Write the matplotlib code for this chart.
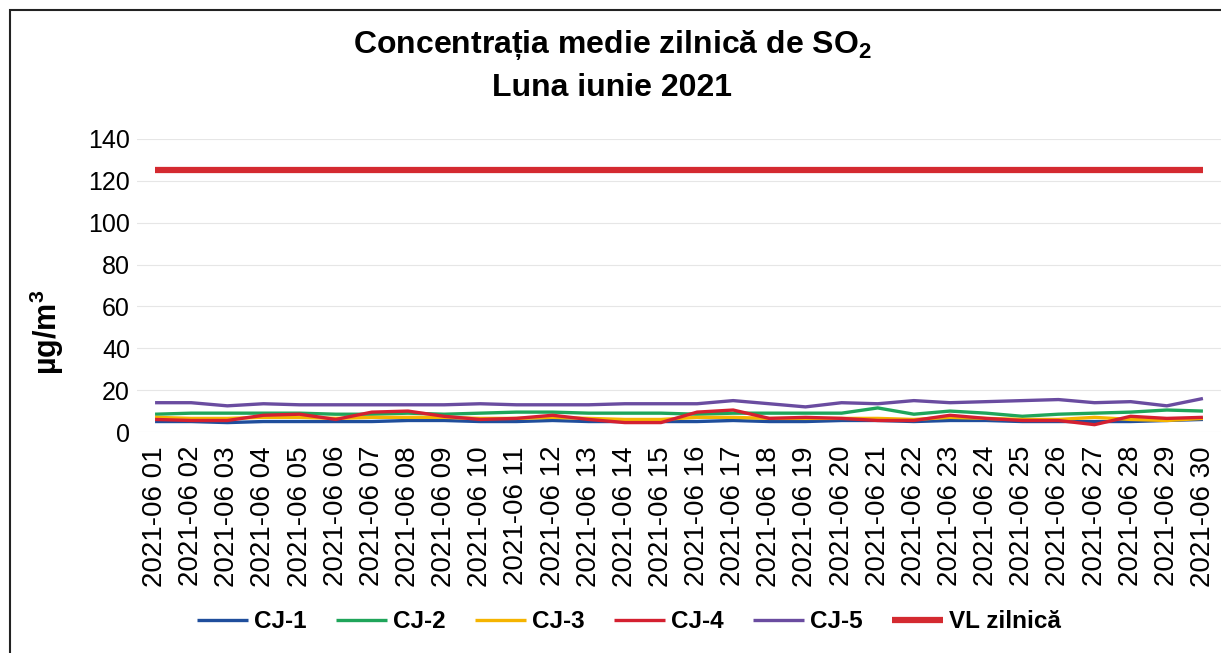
import numpy as np
import matplotlib
matplotlib.use("Agg")
import matplotlib.pyplot as plt
from matplotlib.patches import Rectangle

plt.rcParams['font.family'] = ['Liberation Sans', 'DejaVu Sans']
plt.rcParams['mathtext.fontset'] = 'custom'
plt.rcParams['mathtext.rm'] = 'Liberation Sans'
plt.rcParams['mathtext.bf'] = 'Liberation Sans:bold'

# data (µg/m3)
dates = ["2021-06 %02d" % d for d in range(1, 31)]
cj1 = [5, 5, 4.5, 5, 5, 5, 5, 5.5, 5.5, 5, 5, 5.5, 5, 5, 5, 5, 5.5, 5, 5,
       5.5, 5.5, 5, 5.5, 5.5, 5, 5, 5, 5, 5.5, 6]
cj2 = [8.5, 9, 9, 9, 9, 8.5, 8.5, 9, 8.5, 9, 9.5, 9.5, 9, 9, 9, 8.5, 9, 9,
       9, 9, 11.5, 8.5, 10, 9, 7.5, 8.5, 9, 9.5, 10.5, 10]
cj3 = [7, 6.5, 6.5, 7, 7, 6.5, 7, 7, 7, 6.5, 6.5, 7, 6.5, 6, 6, 7, 7, 6.5,
       6.5, 6.5, 6.5, 6, 7, 6.5, 6, 6, 7, 6, 5.5, 6.5]
cj4 = [6, 5.5, 5.5, 8, 8.5, 6, 9.5, 10, 7.5, 6, 6.5, 8, 6, 4.5, 4.5, 9.5,
       10.5, 6.5, 7, 6.5, 5.5, 5.5, 8, 6.5, 5.5, 5.5, 3.5, 7.5, 6.5, 7]
cj5 = [14, 14, 12.5, 13.5, 13, 13, 13, 13, 13, 13.5, 13, 13, 13, 13.5, 13.5,
       13.5, 15, 13.5, 12, 14, 13.5, 15, 14, 14.5, 15, 15.5, 14, 14.5, 12.5, 16]
vl = [125] * 30

series = [("CJ-1", cj1, "#1f4e9c", 2.4),
          ("CJ-2", cj2, "#1fa55a", 2.4),
          ("CJ-3", cj3, "#f5b400", 2.4),
          ("CJ-4", cj4, "#d42030", 2.4),
          ("CJ-5", cj5, "#6a4ca0", 2.4),
          ("VL zilnică", vl, "#d42a30", 4.5)]

fig = plt.figure(figsize=(12.21, 6.53), dpi=100)
W, H = 1221, 653
ax = fig.add_axes([137 / W, (H - 432) / H, (1221 - 137) / W, (432 - 139) / H])

x = np.arange(len(dates))
for name, vals, col, lw in series:
    ax.plot(x, vals, color=col, lw=lw, label=name, solid_capstyle='butt')

ax.set_xlim(-0.5, len(dates) - 0.5)
ax.set_ylim(0, 140)
ax.set_yticks(range(0, 141, 20))
ax.set_xticks(x)
ax.set_xticklabels(dates, rotation=90, fontsize=20)
ax.tick_params(axis='y', labelsize=18, length=0, pad=5)
ax.tick_params(axis='x', length=0, pad=10)
ax.grid(axis='y', color='#e6e6e6', lw=0.8)
ax.set_axisbelow(True)
for s in ax.spines.values():
    s.set_visible(False)

ax.set_ylabel("µg/m$^\\mathbf{3}$", fontsize=22, fontweight='bold')
ax.yaxis.set_label_coords(-(137 - 66) / (1221 - 137), (432 - 332) / (432 - 139))

fig.text(612 / W, 1 - 45 / H, "Concentrația medie zilnică de SO$_\\mathbf{2}$",
         ha='center', va='center', fontsize=23, fontweight='bold')
fig.text(612 / W, 1 - 88 / H, "Luna iunie 2021",
         ha='center', va='center', fontsize=23, fontweight='bold')

leg = fig.legend(loc='center', bbox_to_anchor=(629 / W, 1 - 622 / H), ncol=6,
                 frameon=False, prop={'weight': 'bold', 'size': 17.5},
                 handlelength=2.1, handletextpad=0.25, columnspacing=1.2)

# outer chart frame
fig.patches.append(Rectangle((10 / W, -0.1), 1.2, 1 - 10 / H + 0.1,
                             transform=fig.transFigure, fill=False,
                             ec='#222222', lw=1.5))

fig.savefig("out.png", dpi=100)
